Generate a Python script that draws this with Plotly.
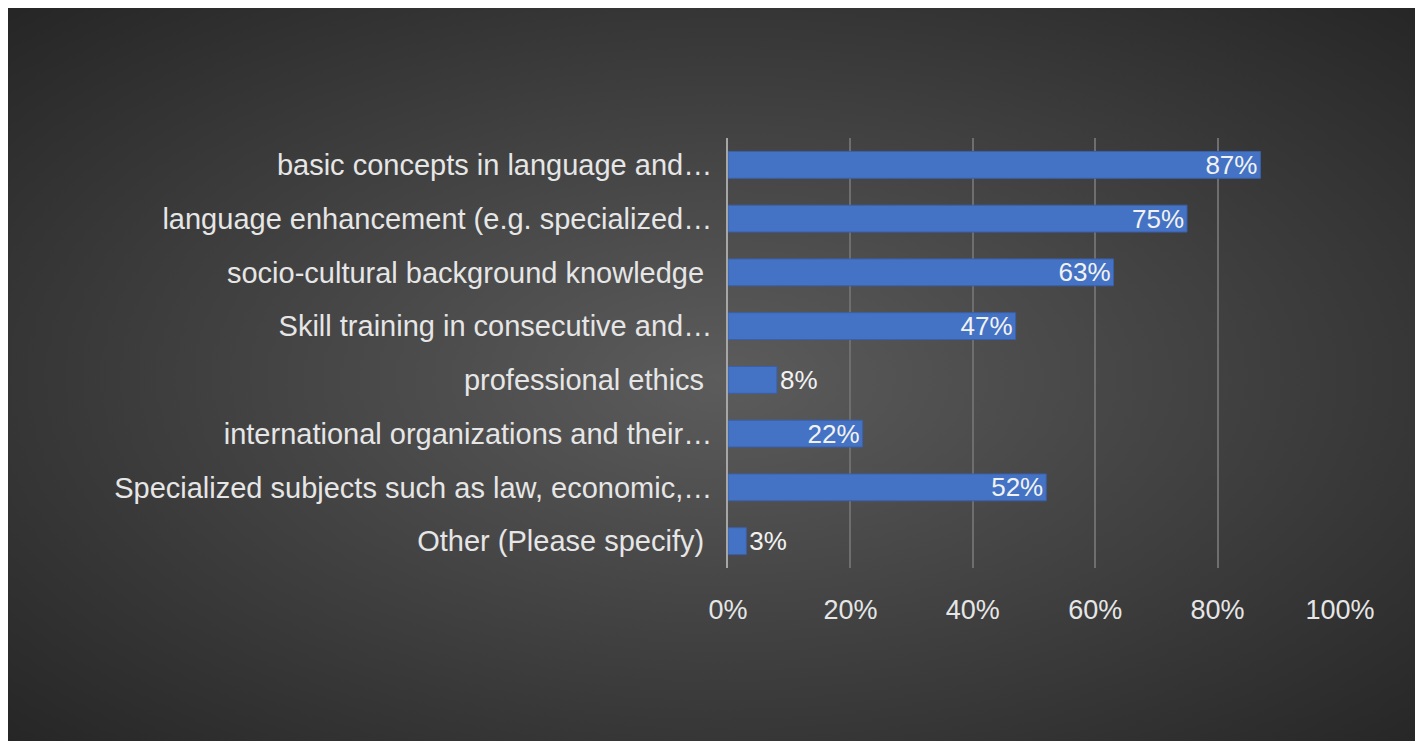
import plotly.graph_objects as go
import base64

categories = ["basic concepts in language and…",
              "language enhancement (e.g. specialized…",
              "socio-cultural background knowledge ",
              "Skill training in consecutive and…",
              "professional ethics ",
              "international organizations and their…",
              "Specialized subjects such as law, economic,…",
              "Other (Please specify) "]
values = [0.87, 0.75, 0.63, 0.47, 0.08, 0.22, 0.52, 0.03]
labels = ["87%", "75%", "63%", "47%", "8%", "22%", "52%", "3%"]
positions = ["inside" if v > 0.15 else "outside" for v in values]

svg = ('<svg xmlns="http://www.w3.org/2000/svg" width="1423" height="741">'
       '<defs><radialGradient id="g" cx="50%" cy="50%" r="70%">'
       '<stop offset="0%" stop-color="#5c5c5c"/><stop offset="100%" stop-color="#262626"/>'
       '</radialGradient></defs><rect width="1423" height="741" fill="url(#g)"/></svg>')
uri = "data:image/svg+xml;base64," + base64.b64encode(svg.encode()).decode()

L, T, W, H = 720, 130, 612, 430
fig = go.Figure(go.Bar(
    y=categories, x=values, orientation="h",
    marker=dict(color="#4472C4", line=dict(color="#3a60a8", width=1)),
    text=labels, textposition=positions, insidetextanchor="end",
    constraintext="none",
    textfont=dict(color="#f2f2f2", size=26), cliponaxis=False,
))
fig.update_layout(
    width=1423, height=741,
    margin=dict(l=L, r=1423 - L - W, t=T, b=741 - T - H),
    paper_bgcolor="#3a3a3a", plot_bgcolor="rgba(0,0,0,0)",
    font=dict(family="Liberation Sans", color="#e6e6e6", size=26),
    bargap=0.5, showlegend=False,
    images=[dict(source=uri, xref="paper", yref="paper", x=-L / W, y=1 + T / H,
                 sizex=1423 / W, sizey=741 / H, sizing="stretch", layer="below",
                 xanchor="left", yanchor="top")],
    xaxis=dict(range=[0, 1], tickvals=[0, 0.2, 0.4, 0.6, 0.8, 1.0],
               ticktext=["0%", "20%", "40%", "60%", "80%", "100%"],
               showgrid=True, gridcolor="#6e6e6e", gridwidth=1.5, zeroline=False,
               tickfont=dict(size=27, color="#e6e6e6"), ticklen=18, ticks="outside",
               tickcolor="rgba(0,0,0,0)"),
    yaxis=dict(autorange="reversed", showline=True, linecolor="#a6a6a6", linewidth=2,
               ticks="outside", ticklen=8, tickcolor="rgba(0,0,0,0)",
               tickfont=dict(size=29, color="#e6e6e6")),
)
fig.write_html("out.html")
